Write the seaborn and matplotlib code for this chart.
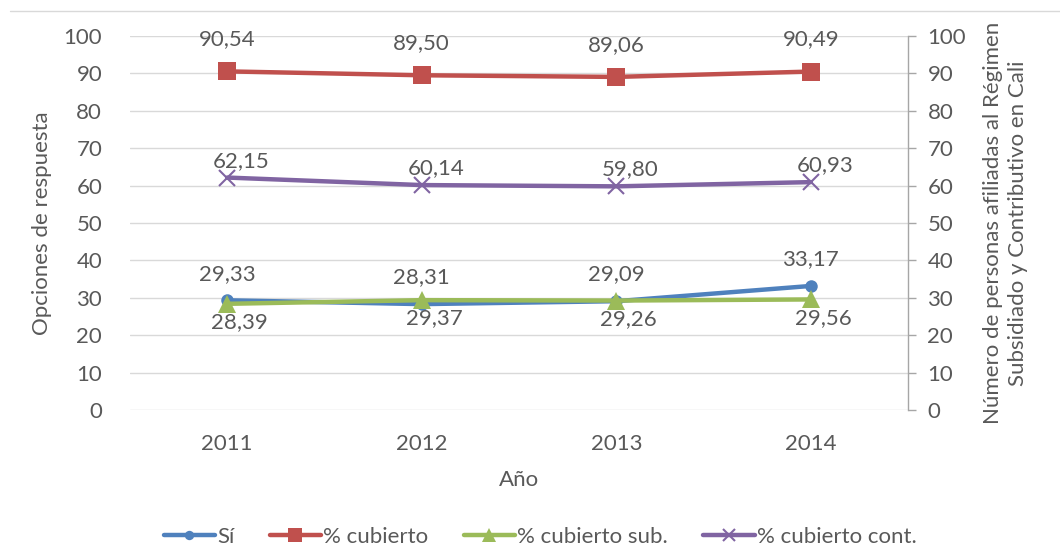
import matplotlib
matplotlib.use("Agg")
import matplotlib.pyplot as plt
import seaborn as sns
import pandas as pd
from matplotlib.lines import Line2D

years = ["2011", "2012", "2013", "2014"]
si = [29.33, 28.31, 29.09, 33.17]
cubierto = [90.54, 89.50, 89.06, 90.49]
cubierto_sub = [28.39, 29.37, 29.26, 29.56]
cubierto_cont = [62.15, 60.14, 59.80, 60.93]
series_names = ["Sí", "% cubierto", "% cubierto sub.", "% cubierto cont."]
yticks = list(range(0, 101, 10))

sns.set_theme(style="white")
plt.rcParams['font.family'] = ['Lato', 'DejaVu Sans']

GRAY = "#595959"
FS = 16
colors = ["#4F81BD", "#C0504D", "#9BBB59", "#8064A2"]
markers = ["o", "s", "^", "x"]
msizes = [9, 13, 13, 12]

fig = plt.figure(figsize=(10.6, 5.48), dpi=100)
ax = fig.add_axes([130/1060, 1-410/548, (908-130)/1060, (410-36)/548])

df = pd.DataFrame({"Año": years * 4,
                   "valor": si + cubierto + cubierto_sub + cubierto_cont,
                   "serie": sum([[n]*4 for n in series_names], [])})
df["x"] = df["Año"].map({y: i for i, y in enumerate(years)})

order_draw = [1, 3, 0, 2]
for i in order_draw:
    name = series_names[i]
    d = df[df["serie"] == name]
    sns.lineplot(data=d, x="x", y="valor", ax=ax, color=colors[i], linewidth=3.2,
                 marker=markers[i], markersize=msizes[i],
                 markeredgewidth=1.5 if markers[i] == "x" else 0,
                 markeredgecolor=colors[i], legend=False, zorder=3)

ax.set_xlim(-0.5, 3.5)
ax.set_ylim(0, 100)
ax.set_yticks(yticks)
ax.set_xticks(range(len(years)))
ax.set_xticklabels(years)
ax.tick_params(axis="both", labelsize=FS, labelcolor=GRAY, length=0)
ax.tick_params(axis="x", pad=17)
ax.tick_params(axis="y", pad=20)
ax.yaxis.grid(True, color="#D9D9D9", linewidth=1)
ax.xaxis.grid(False)
for s in ax.spines.values():
    s.set_visible(False)
ax.set_xlabel("Año", fontsize=FS, color=GRAY, labelpad=12)
ax.set_ylabel("Opciones de respuesta", fontsize=FS, color=GRAY, labelpad=8)

fmt = lambda v: f"{v:.2f}".replace(".", ",")
lab_kw = dict(fontsize=FS, color=GRAY, ha="center", textcoords="offset points")
for xv, v in zip(range(4), cubierto):
    ax.annotate(fmt(v), (xv, v), xytext=(0, 16), va="bottom", **lab_kw)
for xv, v in zip(range(4), cubierto_cont):
    ax.annotate(fmt(v), (xv, v), xytext=(10, 5), va="bottom", **lab_kw)
for xv, v in zip(range(4), si):
    ax.annotate(fmt(v), (xv, v), xytext=(0, 12), va="bottom", **lab_kw)
for xv, v in zip(range(4), cubierto_sub):
    ax.annotate(fmt(v), (xv, v), xytext=(9, -6), va="top", **lab_kw)

ax2 = ax.twinx()
ax2.set_ylim(0, 100)
ax2.set_yticks(yticks)
for s in ["top", "left", "bottom"]:
    ax2.spines[s].set_visible(False)
ax2.spines["right"].set_color("#A6A6A6")
ax2.spines["right"].set_linewidth(1)
ax2.tick_params(axis="y", labelsize=FS, labelcolor=GRAY, length=6, width=1,
                color="#A6A6A6", direction="out", pad=8)
ax2.grid(False)
ax2.set_ylabel("Número de personas afiliadas al Régimen\nSubsidiado y Contributivo en Cali",
               fontsize=FS, color=GRAY, labelpad=12, multialignment="center",
               linespacing=1.35)

# top border line
fig.add_artist(Line2D([10/1060, 1.0], [1-11/548, 1-11/548], color="#D9D9D9",
                      linewidth=1, transform=fig.transFigure))

handles = [Line2D([0], [0], color=colors[i], linewidth=3.2, marker=markers[i],
                  markersize=msizes[i]*0.75, markeredgewidth=1.5 if markers[i] == "x" else 0,
                  markeredgecolor=colors[i]) for i in range(4)]
fig.legend(handles, series_names, loc="center", bbox_to_anchor=(540/1060, 1-537/548),
           ncol=4, frameon=False, fontsize=FS, labelcolor=GRAY, handlelength=2.3,
           handletextpad=0.1, columnspacing=1.6)

fig.savefig("out.png", dpi=100)
